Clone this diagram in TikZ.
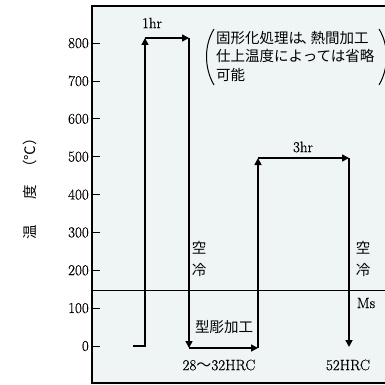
\documentclass[tikz,border=0pt]{standalone}
\usepackage{fontspec}
\setmainfont{Latin Modern Roman}[FakeBold=0.5]
\newfontfamily\cjk{Noto Sans CJK JP}
\usetikzlibrary{arrows.meta}
\definecolor{bg}{RGB}{239,245,245}
\begin{document}
\begin{tikzpicture}[x=1pt,y=-1pt,
  flow/.style={line width=1.6pt,-{Triangle[length=7pt,width=7pt]}},
  axisline/.style={line width=1.6pt},
  lbl/.style={font=\fontsize{15}{17}\selectfont,inner sep=0pt},
  jp/.style={font=\cjk\fontsize{14.5}{18}\selectfont,inner sep=0pt},
  jpv/.style={font=\cjk\fontsize{14.5}{22}\selectfont,inner sep=0pt,align=center},
  paren/.style={line width=1pt}]
\useasboundingbox (0,0) rectangle (385,385);
% plot area
\fill[bg] (92,6) rectangle (385,383);
\coordinate (tl) at (92,6);
\coordinate (bl) at (92,383);
\coordinate (tr) at (385,6);
\coordinate (br) at (385,383);
\draw[axisline] (tr) -- (tl) -- (bl) -- (br);
% ticks and labels
\foreach \t in {0,...,8}{
  \pgfmathsetmacro{\yy}{346-37.86*\t}
  \draw[line width=0.9pt] (92,\yy) -- (100,\yy);
  \ifnum\t=0
    \node[lbl,anchor=east] (tk\t) at (89,\yy) {0};
  \else
    \node[lbl,anchor=east] (tk\t) at (89,\yy) {\t00};
  \fi
}
% Ms line
\coordinate (ms0) at (92,290);
\coordinate (ms1) at (385,290);
\draw[line width=0.9pt] (ms0) -- (ms1);
% y axis label
\node[jp,rotate=90] (ylA) at (30,232) {温};
\node[jp,rotate=90] (ylB) at (30,192) {度};
\node[jp,rotate=90] (ylC) at (30,153) {（℃）};
% heat treatment path
\coordinate (s0) at (133,346);
\coordinate (a0) at (145,346);
\coordinate (a1) at (145,38);
\coordinate (b1) at (189,38);
\coordinate (b0) at (189,348);
\coordinate (c0) at (258,348);
\coordinate (c1) at (258,158);
\coordinate (d1) at (349,158);
\coordinate (d0) at (349,347);
\draw[flow] (s0) -- (a0) -- (a1);
\draw[flow] (a1) -- (b1);
\draw[flow] (b1) -- (b0);
\draw[flow] (b0) -- (c0);
\draw[flow] (c0) -- (c1);
\draw[flow] (c1) -- (d1);
\draw[flow] (d1) -- (d0);
% labels
\node[lbl] (h1) at (152,23) {1hr};
\node[lbl] (h3) at (303,147) {3hr};
\node[jpv] (ac1) at (199,259) {空\\冷};
\node[jpv] (ac2) at (363,259) {空\\冷};
\node[lbl] (msl) at (366,303) {Ms};
\node[jp] (kata) at (224,327) {型彫加工};
\node[lbl] (hrc1) at (219,365) {28{\cjk〜}32HRC};
\node[lbl] (hrc2) at (348,365) {52HRC};
% annotation
\node[jp,anchor=north west,align=left,font=\cjk\fontsize{14.5}{18.5}\selectfont] (note) at (216,31)
  {固形化処理は{\kern-2pt、\kern-5pt}熱間加工\\仕上温度によっては省略\\可能};
\draw[paren] (214,29) .. controls (204,45) and (204,68) .. (214,85);
\draw[paren] (379,29) .. controls (389,45) and (389,68) .. (379,85);
\end{tikzpicture}
\end{document}
